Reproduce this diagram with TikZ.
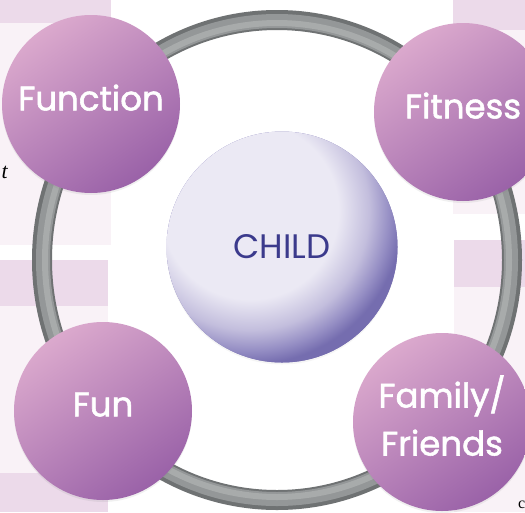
\documentclass[tikz,border=0pt]{standalone}
\usepackage{fontspec}
\setmainfont{Poppins}
\newfontfamily\petalfont{Poppins}[FakeBold=1.6]
\newfontfamily\notefont{Liberation Serif}
\usetikzlibrary{shadows}
\definecolor{bandpink}{HTML}{ECDAEA}
\definecolor{palepink}{HTML}{F9F2F7}
\definecolor{petallight}{HTML}{DBA9CD}
\definecolor{petaldark}{HTML}{9A62A8}
\definecolor{ringdark}{HTML}{6F7273}
\definecolor{ringmid}{HTML}{949798}
\definecolor{ringlight}{HTML}{A8ABAB}
\definecolor{childlight}{HTML}{EBE9F4}
\definecolor{childmid}{HTML}{C3BEDD}
\definecolor{childdeep}{HTML}{958EC4}
\definecolor{childdark}{HTML}{756DAF}
\definecolor{childtext}{HTML}{3B3A8C}
\pgfdeclareradialshading{childglow}{\pgfpoint{0bp}{0bp}}{color(0bp)=(childlight); color(13bp)=(childlight); color(17.5bp)=(childmid); color(20.5bp)=(childdeep); color(22.5bp)=(childdark); color(25bp)=(childdark); color(50bp)=(childdark)}
\tikzstyle{petal}=[circle,minimum size=178pt,inner sep=0pt,text=white,font=\petalfont\fontsize{34}{48}\selectfont,text depth=13pt,align=center,top color=petallight,bottom color=petaldark,shading angle=35,drop shadow={opacity=0.12,shadow xshift=0pt,shadow yshift=-2pt}]
\tikzstyle{hub}=[circle,minimum size=231pt,inner sep=0pt,text=childtext,font=\fontsize{34}{40}\selectfont,fill=childdark,drop shadow={opacity=0.08,shadow xshift=0pt,shadow yshift=-2pt},path picture={\shade[shading=childglow] ([shift={(-32pt,36pt)}]path picture bounding box.center) circle (170pt);}]
\tikzstyle{ringpart}=[line width=20pt]
\tikzstyle{fragment}=[font=\notefont,inner sep=0pt]

\begin{document}
\begin{tikzpicture}[x=1pt,y=-1pt]

    \useasboundingbox (0,0) rectangle (525,512);

    % page columns behind the diagram
    \foreach \xa/\ya/\xb/\yb/\tint in {0/0/111/23/bandpink, 0/23/111/245/palepink, 0/260/108/306/bandpink, 0/306/108/473/palepink, 0/473/108/512/bandpink, 453/0/525/30/bandpink, 453/30/525/214/palepink, 454/240/525/287/bandpink, 454/287/525/512/palepink}
        \fill[\tint] (\xa,\ya) rectangle (\xb,\yb);

    \node[fragment, anchor=east] (tfrag) at (8,172) {\fontsize{22}{22}\selectfont\itshape t};
    \node[fragment, anchor=west] (cfrag) at (518,505) {\fontsize{16}{16}\selectfont c};

    % the ring
    \coordinate (ringc) at (277,260);
    \draw[ringpart, ringdark] (ringc) ellipse [x radius=235pt, y radius=240pt];
    \draw[ringpart, ringmid, line width=14pt] (ringc) ellipse [x radius=234pt, y radius=239pt];
    \draw[ringpart, ringlight, line width=6pt] (ringc) ellipse [x radius=232pt, y radius=237pt];

    \node[hub] (child) at (282,247) {CHILD};

    \foreach \x/\y/\name/\text in {91/104/function/Function, 463/112/fitness/Fitness, 103/411/fun/Fun, 442/422/family/{Family/\\Friends}}
        \node[petal] (\name) at (\x,\y) {\text};

\end{tikzpicture}
\end{document}
